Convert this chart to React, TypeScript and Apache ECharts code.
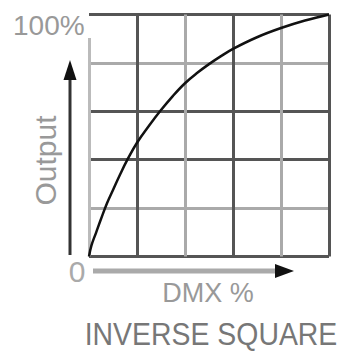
import React, { useEffect, useRef } from "react";
import * as echarts from "echarts";

// DMX % (x) vs Output % (y)
const dmx = [0, 1, 3, 5, 7.5, 10, 13, 16, 20, 25, 30, 35, 40, 45, 50, 55, 60, 70, 80, 90, 100];
const output = [0, 4.5, 10, 15.5, 22, 27.5, 34, 40, 47, 54, 60.5, 66.4, 71.6, 75.8, 79.5, 82.8, 85.8, 90.6, 94.4, 97.5, 100];
const xTicks = [0, 20, 40, 60, 80, 100];
const yTicks = [0, 20, 40, 60, 80, 100];
const title = "INVERSE SQUARE";
const xName = "DMX %";
const yName = "Output";
const yMaxLabel = "100%";
const originLabel = "0";

const DARK = "#555555";
const LIGHT = "#aaaaaa";

export default function App() {
  const ref = useRef<HTMLDivElement>(null);
  useEffect(() => {
    if (!ref.current) return;
    const chart = echarts.init(ref.current, null, { renderer: "svg" });
    const font = "Liberation Sans, Arial, sans-serif";
    chart.setOption({
      animation: false,
      backgroundColor: "#ffffff",
      grid: { left: 89, right: 11, top: 14.5, bottom: 95.5 },
      xAxis: {
        type: "value",
        min: xTicks[0],
        max: xTicks[xTicks.length - 1],
        interval: 20,
        axisLine: { show: false },
        axisTick: { show: false },
        axisLabel: { show: false },
        splitLine: {
          show: true,
          lineStyle: { width: 3, color: ["rgba(0,0,0,0)", DARK, LIGHT, DARK, LIGHT, DARK] },
        },
      },
      yAxis: {
        type: "value",
        min: yTicks[0],
        max: yTicks[yTicks.length - 1],
        interval: 20,
        axisLine: { show: false },
        axisTick: { show: false },
        axisLabel: { show: false },
        splitLine: {
          show: true,
          lineStyle: { width: 3, color: [DARK, LIGHT, DARK, DARK, LIGHT, DARK] },
        },
      },
      series: [
        {
          type: "line",
          data: dmx.map((x, i) => [x, output[i]]),
          smooth: 0.4,
          showSymbol: false,
          lineStyle: { color: "#111111", width: 2.5 },
          z: 5,
          markLine: {
            silent: true,
            symbol: ["none", "none"],
            label: { show: false },
            lineStyle: { color: "#bbbbbb", width: 3, type: "solid" },
            data: [[{ coord: [0, 0] }, { coord: [0, 90.3] }]],
          },
        },
      ],
      graphic: [
        // y arrow
        { type: "line", shape: { x1: 70, y1: 255, x2: 70, y2: 75 }, style: { stroke: "#333333", lineWidth: 3 } },
        { type: "polygon", shape: { points: [[70, 60], [63.5, 80], [76.5, 80]] }, style: { fill: "#111111" } },
        // x arrow
        { type: "line", shape: { x1: 93, y1: 271, x2: 280, y2: 271 }, style: { stroke: "#aaaaaa", lineWidth: 5 } },
        { type: "polygon", shape: { points: [[294, 271], [275, 264], [275, 278]] }, style: { fill: "#111111" } },
        {
          type: "text",
          x: 13,
          y: 25,
          style: { text: yMaxLabel, font: `28px ${font}`, fill: "#999999", align: "left", verticalAlign: "middle" },
        },
        {
          type: "text",
          x: 45,
          y: 160.5,
          rotation: Math.PI / 2,
          style: { text: yName, font: `30px ${font}`, fill: "#999999", align: "center", verticalAlign: "middle" },
        },
        {
          type: "text",
          x: 77,
          y: 271.5,
          style: { text: originLabel, font: `30px ${font}`, fill: "#aaaaaa", align: "center", verticalAlign: "middle" },
        },
        {
          type: "text",
          x: 208,
          y: 292.5,
          style: { text: xName, font: `27px ${font}`, fill: "#999999", align: "center", verticalAlign: "middle" },
        },
        {
          type: "text",
          x: 211,
          y: 333.8,
          scaleX: 0.98,
          scaleY: 1.1,
          style: { text: title, font: `29px ${font}`, fill: "#777777", align: "center", verticalAlign: "middle" },
        },
      ],
    });
    return () => chart.dispose();
  }, []);
  return <div ref={ref} style={{ width: 340, height: 352, position: "absolute", left: 0, top: 0 }} />;
}
